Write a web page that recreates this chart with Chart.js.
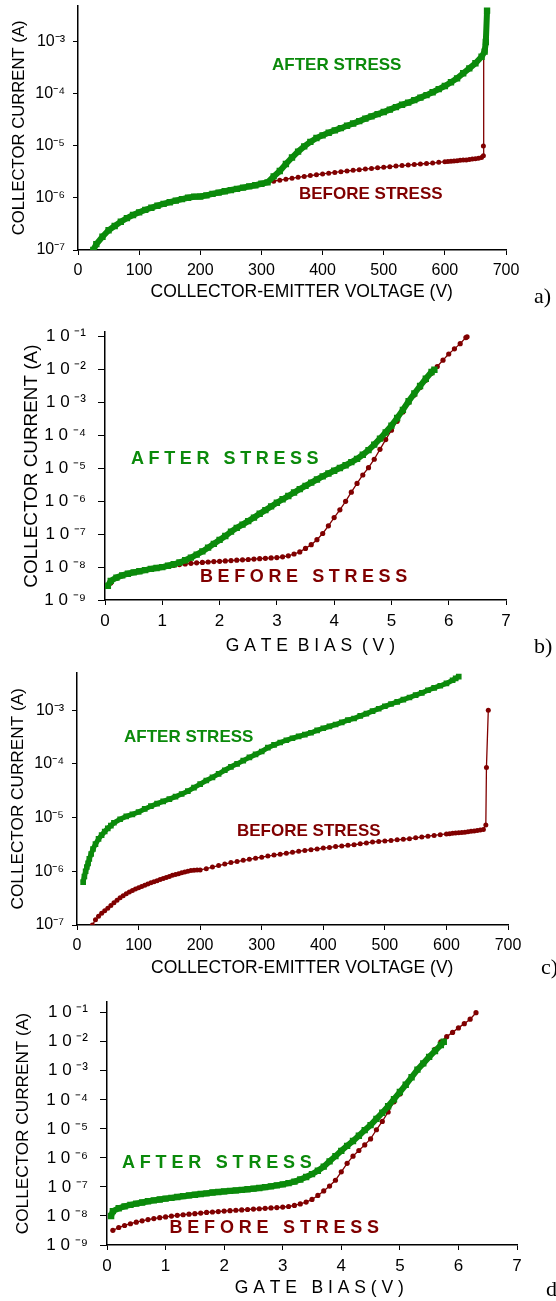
<!DOCTYPE html>
<html>
<head>
<meta charset="utf-8">
<script src="https://cdn.jsdelivr.net/npm/chart.js@4.4.1/dist/chart.umd.min.js"></script>
<style>
  html, body { margin: 0; padding: 0; background: #fff; }
  body { position: relative; width: 556px; height: 1301px; overflow: hidden; }
  canvas { position: absolute; left: 0; }
</style>
</head>
<body>
<canvas id="chartA" width="556" height="330" style="top:-20px"></canvas>
<canvas id="chartB" width="556" height="350" style="top:310px"></canvas>
<canvas id="chartC" width="556" height="330" style="top:655px"></canvas>
<canvas id="chartD" width="556" height="321" style="top:980px"></canvas>
<script>
// ---- panel a : collector current vs collector-emitter voltage ----
const aAfterV = [25, 30, 40, 50, 60, 70, 80, 90, 100, 110, 120, 130, 140, 150, 160, 170, 180, 190, 200, 210, 220, 230, 240, 250, 260, 270, 280, 290, 300, 310,
  320, 330, 340, 350, 360, 370, 380, 390, 400, 410, 420, 430, 440, 450, 460, 470, 480, 490, 500, 510, 520, 530, 540, 550, 560, 570,
  580, 590, 600, 610, 620, 630, 640, 650, 660, 665, 667, 669];
const aAfterI = [1.0e-7, 1.3e-7, 1.8e-7, 2.4e-7, 2.9e-7, 3.5e-7, 4.1e-7, 4.7e-7, 5.3e-7, 5.9e-7, 6.5e-7, 7.1e-7, 7.7e-7, 8.3e-7, 8.9e-7, 9.5e-7, 1.01e-6, 1.06e-6, 1.07e-6, 1.12e-6, 1.2e-6, 1.27e-6, 1.35e-6, 1.42e-6, 1.5e-6, 1.58e-6, 1.67e-6, 1.76e-6, 1.88e-6, 2.0e-6,
  2.6e-6, 3.3e-6, 4.5e-6, 6.0e-6, 7.8e-6, 9.8e-6, 1.2e-5, 1.42e-5, 1.6e-5, 1.8e-5, 2.0e-5, 2.2e-5, 2.45e-5, 2.7e-5, 3.0e-5, 3.35e-5, 3.7e-5, 4.1e-5, 4.5e-5, 5.0e-5, 5.6e-5, 6.2e-5, 6.8e-5, 7.6e-5, 8.5e-5, 9.5e-5,
  1.08e-4, 1.24e-4, 1.42e-4, 1.68e-4, 2.0e-4, 2.5e-4, 3.1e-4, 3.9e-4, 5.2e-4, 6.5e-4, 1.0e-3, 4.0e-3];
const aBeforeV = [25, 30, 40, 50, 60, 70, 80, 90, 100, 110, 120, 130, 140, 150, 160, 170, 180, 190, 200, 210, 220, 230, 240, 250, 260, 270, 280, 290, 300,
  310, 320, 330, 340, 350, 360, 370, 380, 390, 400, 410, 420, 430, 440, 450, 460, 470, 480, 490, 500, 510, 520, 530, 540, 550, 560, 570, 580, 590, 600,
  605, 610, 615, 620, 625, 630, 635, 640, 645, 650, 655, 660, 663, 663, 664];
const aBeforeI = [1.0e-7, 1.3e-7, 1.8e-7, 2.4e-7, 2.9e-7, 3.5e-7, 4.1e-7, 4.7e-7, 5.3e-7, 5.9e-7, 6.5e-7, 7.1e-7, 7.7e-7, 8.3e-7, 8.9e-7, 9.5e-7, 1.01e-6, 1.06e-6, 1.07e-6, 1.12e-6, 1.2e-6, 1.27e-6, 1.35e-6, 1.42e-6, 1.5e-6, 1.58e-6, 1.67e-6, 1.76e-6, 1.88e-6,
  2.0e-6, 2.1e-6, 2.2e-6, 2.3e-6, 2.4e-6, 2.5e-6, 2.6e-6, 2.7e-6, 2.8e-6, 2.9e-6, 3.0e-6, 3.1e-6, 3.2e-6, 3.3e-6, 3.4e-6, 3.5e-6, 3.6e-6, 3.7e-6, 3.8e-6, 3.9e-6, 4.0e-6, 4.1e-6, 4.2e-6, 4.3e-6, 4.4e-6, 4.5e-6, 4.6e-6, 4.7e-6, 4.85e-6, 5.0e-6,
  5.05e-6, 5.1e-6, 5.15e-6, 5.2e-6, 5.3e-6, 5.35e-6, 5.4e-6, 5.5e-6, 5.6e-6, 5.7e-6, 5.8e-6, 6.0e-6, 6.5e-6, 1.0e-5, 6.5e-4];

// ---- panel b : collector current vs gate bias ----
const bAfterV = [0.05, 0.1, 0.2, 0.3, 0.4, 0.5, 0.6, 0.7, 0.8, 0.9, 1.0, 1.1, 1.2, 1.3, 1.4, 1.5, 1.6, 1.7, 1.8, 1.9, 2.0, 2.1, 2.2, 2.3, 2.4, 2.5, 2.6, 2.7, 2.8, 2.9,
  3.0, 3.1, 3.2, 3.3, 3.4, 3.5, 3.6, 3.7, 3.8, 3.9, 4.0, 4.1, 4.2, 4.3, 4.4, 4.5, 4.6, 4.7, 4.8, 4.9, 5.0, 5.1, 5.2, 5.3, 5.4, 5.5, 5.6, 5.7, 5.75];
const bAfterI = [2.7e-9, 3.8e-9, 4.8e-9, 5.6e-9, 6.3e-9, 6.9e-9, 7.5e-9, 8.1e-9, 8.8e-9, 9.4e-9, 1.0e-8, 1.1e-8, 1.22e-8, 1.38e-8, 1.62e-8, 1.95e-8, 2.4e-8, 3.0e-8, 3.9e-8, 5.1e-8, 6.7e-8, 8.8e-8, 1.2e-7, 1.55e-7, 1.95e-7, 2.5e-7, 3.2e-7, 4.2e-7, 5.4e-7, 7.0e-7,
  9.0e-7, 1.15e-6, 1.45e-6, 1.85e-6, 2.35e-6, 2.95e-6, 3.7e-6, 4.6e-6, 5.7e-6, 7.0e-6, 8.5e-6, 1.03e-5, 1.25e-5, 1.55e-5, 1.95e-5, 2.6e-5, 3.6e-5, 5.3e-5, 8.0e-5, 1.25e-4, 2.0e-4, 3.4e-4, 6.0e-4, 1.1e-3, 1.9e-3, 3.2e-3, 5.3e-3, 8.5e-3, 1.0e-2];
const bBeforeV = [0.05, 0.1, 0.2, 0.3, 0.4, 0.5, 0.6, 0.7, 0.8, 0.9, 1.0, 1.1, 1.2, 1.3, 1.4, 1.5, 1.6, 1.7, 1.8, 1.9, 2.0, 2.1, 2.2, 2.3, 2.4, 2.5, 2.6, 2.7, 2.8, 2.9,
  3.0, 3.1, 3.2, 3.3, 3.4, 3.5, 3.6, 3.7, 3.8, 3.9, 4.0, 4.1, 4.2, 4.3, 4.4, 4.5, 4.6, 4.7, 4.8, 4.9, 5.0, 5.1, 5.2, 5.3, 5.4, 5.5, 5.6, 5.7, 5.8, 5.9,
  6.0, 6.1, 6.2, 6.3, 6.32];
const bBeforeI = [2.6e-9, 3.3e-9, 4.6e-9, 5.5e-9, 6.2e-9, 6.9e-9, 7.5e-9, 8.1e-9, 8.7e-9, 9.3e-9, 1.0e-8, 1.06e-8, 1.13e-8, 1.19e-8, 1.25e-8, 1.3e-8, 1.35e-8, 1.39e-8, 1.43e-8, 1.47e-8, 1.5e-8, 1.54e-8, 1.58e-8, 1.62e-8, 1.66e-8, 1.7e-8, 1.75e-8, 1.8e-8, 1.85e-8, 1.9e-8,
  1.95e-8, 2.05e-8, 2.2e-8, 2.5e-8, 2.9e-8, 3.7e-8, 4.8e-8, 6.8e-8, 1.05e-7, 1.8e-7, 3.2e-7, 5.5e-7, 1.0e-6, 1.9e-6, 3.5e-6, 6.3e-6, 1.05e-5, 1.9e-5, 3.8e-5, 7.5e-5, 1.45e-4, 2.7e-4, 5.2e-4, 1.0e-3, 1.7e-3, 2.9e-3, 4.8e-3, 7.8e-3, 1.25e-2, 1.95e-2,
  3.0e-2, 4.3e-2, 6.2e-2, 9.5e-2, 1.0e-1];

// ---- panel c : collector current vs collector-emitter voltage ----
const cAfterV = [10, 12, 14, 16, 18, 20, 23, 26, 30, 35, 40, 45, 50, 55, 60, 70, 80, 90, 100, 110, 120, 130, 140, 150, 160, 170, 180, 190, 200,
  210, 220, 230, 240, 250, 260, 270, 280, 290, 300, 310, 320, 330, 340, 350, 360, 370, 380, 390, 400, 410, 420, 430, 440, 450, 460, 470, 480, 490, 500,
  510, 520, 530, 540, 550, 560, 570, 580, 590, 600, 610, 615, 620];
const cAfterI = [6.3e-7, 8.0e-7, 1.0e-6, 1.2e-6, 1.4e-6, 1.7e-6, 2.1e-6, 2.6e-6, 3.2e-6, 4.0e-6, 4.7e-6, 5.5e-6, 6.3e-6, 7.1e-6, 8.0e-6, 9.3e-6, 1.05e-5, 1.15e-5, 1.27e-5, 1.45e-5, 1.63e-5, 1.82e-5, 2.0e-5, 2.2e-5, 2.45e-5, 2.75e-5, 3.1e-5, 3.6e-5, 4.2e-5,
  4.9e-5, 5.6e-5, 6.5e-5, 7.6e-5, 8.8e-5, 1.0e-4, 1.15e-4, 1.32e-4, 1.5e-4, 1.7e-4, 2.0e-4, 2.25e-4, 2.5e-4, 2.75e-4, 3.0e-4, 3.25e-4, 3.5e-4, 3.8e-4, 4.2e-4, 4.6e-4, 5.0e-4, 5.4e-4, 5.9e-4, 6.5e-4, 7.0e-4, 7.8e-4, 8.6e-4, 9.6e-4, 1.06e-3, 1.18e-3,
  1.3e-3, 1.43e-3, 1.57e-3, 1.72e-3, 1.9e-3, 2.1e-3, 2.35e-3, 2.6e-3, 2.85e-3, 3.15e-3, 3.6e-3, 3.9e-3, 4.2e-3];
const cBeforeV = [25, 30, 35, 40, 45, 50, 55, 60, 65, 70, 75, 80, 85, 90, 95, 100, 105, 110, 115, 120, 125, 130, 135, 140, 145, 150, 155, 160, 165, 170, 175, 180, 185, 190, 195, 200,
  210, 220, 230, 240, 250, 260, 270, 280, 290, 300, 310, 320, 330, 340, 350, 360, 370, 380, 390, 400, 410, 420, 430, 440, 450, 460, 470, 480, 490, 500,
  510, 520, 530, 540, 550, 560, 570, 580, 590, 600, 605, 610, 615, 620, 625, 630, 635, 640, 645, 650, 655, 660, 664, 665, 668];
const cBeforeI = [1.0e-7, 1.25e-7, 1.45e-7, 1.65e-7, 1.85e-7, 2.05e-7, 2.3e-7, 2.6e-7, 2.9e-7, 3.2e-7, 3.5e-7, 3.8e-7, 4.1e-7, 4.4e-7, 4.7e-7, 4.95e-7, 5.2e-7, 5.5e-7, 5.8e-7, 6.1e-7, 6.4e-7, 6.7e-7, 7.0e-7, 7.35e-7, 7.7e-7, 8.0e-7, 8.4e-7, 8.7e-7, 9.0e-7, 9.4e-7, 9.7e-7, 1.0e-6, 1.03e-6, 1.05e-6, 1.06e-6, 1.06e-6,
  1.12e-6, 1.2e-6, 1.28e-6, 1.36e-6, 1.45e-6, 1.52e-6, 1.6e-6, 1.67e-6, 1.75e-6, 1.83e-6, 1.92e-6, 2.0e-6, 2.08e-6, 2.16e-6, 2.25e-6, 2.35e-6, 2.44e-6, 2.52e-6, 2.6e-6, 2.7e-6, 2.78e-6, 2.88e-6, 2.97e-6, 3.05e-6, 3.12e-6, 3.25e-6, 3.38e-6, 3.5e-6, 3.6e-6, 3.68e-6,
  3.76e-6, 3.85e-6, 3.95e-6, 4.05e-6, 4.2e-6, 4.35e-6, 4.5e-6, 4.65e-6, 4.8e-6, 4.95e-6, 5.0e-6, 5.1e-6, 5.15e-6, 5.2e-6, 5.3e-6, 5.35e-6, 5.45e-6, 5.55e-6, 5.65e-6, 5.75e-6, 5.85e-6, 6.0e-6, 7.3e-6, 8.6e-5, 1.0e-3];

// ---- panel d : collector current vs gate bias ----
const dAfterV = [0.07, 0.1, 0.2, 0.3, 0.4, 0.5, 0.6, 0.7, 0.8, 0.9, 1.0, 1.1, 1.2, 1.3, 1.4, 1.5, 1.6, 1.7, 1.8, 1.9, 2.0, 2.1, 2.2, 2.3, 2.4, 2.5, 2.6, 2.7, 2.8, 2.9,
  3.0, 3.1, 3.2, 3.3, 3.4, 3.5, 3.6, 3.7, 3.8, 3.9, 4.0, 4.1, 4.2, 4.3, 4.4, 4.5, 4.6, 4.7, 4.8, 4.9, 5.0, 5.1, 5.2, 5.3, 5.4, 5.5, 5.6, 5.7, 5.75];
const dAfterI = [1.0e-8, 1.46e-8, 1.85e-8, 2.15e-8, 2.4e-8, 2.65e-8, 2.9e-8, 3.2e-8, 3.45e-8, 3.7e-8, 3.95e-8, 4.2e-8, 4.5e-8, 4.8e-8, 5.1e-8, 5.4e-8, 5.7e-8, 6.0e-8, 6.4e-8, 6.7e-8, 7.0e-8, 7.3e-8, 7.6e-8, 7.9e-8, 8.3e-8, 8.7e-8, 9.2e-8, 9.8e-8, 1.05e-7, 1.13e-7,
  1.22e-7, 1.35e-7, 1.52e-7, 1.8e-7, 2.2e-7, 2.75e-7, 3.6e-7, 5.0e-7, 7.6e-7, 1.15e-6, 1.75e-6, 2.6e-6, 3.8e-6, 5.8e-6, 9.0e-6, 1.35e-5, 2.2e-5, 3.6e-5, 6.0e-5, 1.05e-4, 1.85e-4, 3.3e-4, 6.0e-4, 1.1e-3, 1.8e-3, 3.0e-3, 4.8e-3, 7.7e-3, 1.0e-2];
const dBeforeV = [0.1, 0.2, 0.3, 0.4, 0.5, 0.6, 0.7, 0.8, 0.9, 1.0, 1.1, 1.2, 1.3, 1.4, 1.5, 1.6, 1.7, 1.8, 1.9, 2.0, 2.1, 2.2, 2.3, 2.4, 2.5, 2.6, 2.7, 2.8, 2.9,
  3.0, 3.1, 3.2, 3.3, 3.4, 3.5, 3.6, 3.7, 3.8, 3.9, 4.0, 4.1, 4.2, 4.3, 4.4, 4.5, 4.6, 4.7, 4.8, 4.9, 5.0, 5.1, 5.2, 5.3, 5.4, 5.5, 5.6, 5.7, 5.8, 5.9,
  6.0, 6.1, 6.2, 6.3];
const dBeforeI = [3.2e-9, 4.0e-9, 4.7e-9, 5.4e-9, 6.1e-9, 6.8e-9, 7.5e-9, 8.1e-9, 8.7e-9, 9.3e-9, 9.9e-9, 1.05e-8, 1.1e-8, 1.15e-8, 1.2e-8, 1.26e-8, 1.32e-8, 1.37e-8, 1.42e-8, 1.47e-8, 1.52e-8, 1.57e-8, 1.62e-8, 1.67e-8, 1.72e-8, 1.77e-8, 1.83e-8, 1.89e-8, 1.95e-8,
  2.02e-8, 2.12e-8, 2.3e-8, 2.6e-8, 3.0e-8, 3.7e-8, 5.1e-8, 7.3e-8, 1.07e-7, 1.7e-7, 3.3e-7, 6.5e-7, 1.15e-6, 1.8e-6, 2.8e-6, 4.5e-6, 9.3e-6, 1.8e-5, 3.8e-5, 8.5e-5, 1.6e-4, 3.3e-4, 6.0e-4, 1.1e-3, 1.75e-3, 3.0e-3, 5.5e-3, 1.0e-2, 1.5e-2, 2.1e-2,
  3.0e-2, 4.2e-2, 6.0e-2, 1.0e-1];

// tick values
const vceTicksY = [1e-7, 1e-6, 1e-5, 1e-4, 1e-3];
const gateTicksY = [1e-9, 1e-8, 1e-7, 1e-6, 1e-5, 1e-4, 1e-3, 1e-2, 1e-1];

const GREEN = '#0b8a0b';
const RED = '#800000';
const SANS = "'Liberation Sans', Arial, sans-serif";
const SERIF = "'Liberation Serif', 'Times New Roman', serif";

Chart.defaults.font.family = SANS;
Chart.defaults.color = '#000';

const SUP = {'-': '\u207B', '0': '\u2070', '1': '\u00B9', '2': '\u00B2', '3': '\u00B3', '4': '\u2074',
  '5': '\u2075', '6': '\u2076', '7': '\u2077', '8': '\u2078', '9': '\u2079'};

function powLabel(v, spaced) {
    const e = String(Math.round(Math.log10(v))).split('').map(c => SUP[c]).join('');
    return spaced ? '1 0 ' + e : '10' + e;
}

function pts(xs, ys) {
    return xs.map((x, i) => ({x: x, y: ys[i]}));
}

// draws the curve labels and the panel letter
const textPlugin = {
    id: 'panelText',
    afterDraw(chart, args, opts) {
        const ctx = chart.ctx;
        (opts.items || []).forEach(it => {
            ctx.save();
            ctx.font = it.font;
            ctx.fillStyle = it.color || '#000';
            ctx.textAlign = 'left';
            ctx.textBaseline = 'middle';
            ctx.letterSpacing = (it.spacing || 0) + 'px';
            ctx.fillText(it.text, it.x, it.y - opts.top);
            ctx.restore();
        });
    }
};

function makePanel(p) {
    const canvas = document.getElementById(p.id);
    const H = canvas.height;
    return new Chart(canvas, {
        type: 'line',
        data: {
            datasets: [{
                label: 'AFTER STRESS',
                data: pts(p.afterV, p.afterI),
                borderColor: GREEN,
                backgroundColor: GREEN,
                borderWidth: p.greenLine,
                pointStyle: 'rect',
                pointRadius: p.greenRadius,
                pointBorderWidth: 0,
                pointBackgroundColor: GREEN,
                tension: 0
            }, {
                label: 'BEFORE STRESS',
                data: pts(p.beforeV, p.beforeI),
                borderColor: RED,
                backgroundColor: RED,
                borderWidth: 1.3,
                pointStyle: 'circle',
                pointRadius: p.redRadius,
                pointBorderWidth: 0,
                pointBackgroundColor: RED,
                tension: 0
            }]
        },
        options: {
            responsive: false,
            devicePixelRatio: 1,
            animation: false,
            layout: {
                padding: {top: p.area.top - p.canvasTop, right: 556 - p.area.right, bottom: 0, left: 0}
            },
            plugins: {
                legend: {display: false},
                tooltip: {enabled: false},
                panelText: {top: p.canvasTop, items: p.texts}
            },
            scales: {
                x: {
                    type: 'linear',
                    min: 0,
                    max: p.xMax,
                    ticks: {stepSize: p.xStep, font: {size: p.tickSize}, color: '#000', padding: p.xTickPad},
                    grid: {display: true, drawOnChartArea: false, drawTicks: true, tickLength: 5, color: '#000', lineWidth: 1},
                    border: {display: true, color: '#000', width: 1.5},
                    title: {display: true, text: p.xTitle, font: {size: p.titleSize, lineHeight: 1.2}, color: '#000',
                        padding: {top: 0, bottom: p.xTitlePad}},
                    afterFit(s) { s.height = H - (p.area.bottom - p.canvasTop); }
                },
                y: {
                    type: 'logarithmic',
                    min: p.yMin,
                    max: p.yMax,
                    afterBuildTicks(s) { s.ticks = p.yTicks.map(v => ({value: v, major: true})); },
                    ticks: {callback: v => powLabel(v, p.spaced), font: {size: p.tickSize}, color: '#000', padding: p.yTickPad, autoSkip: false},
                    grid: {display: true, drawOnChartArea: false, drawTicks: true, tickLength: p.yTickLen, color: '#000', lineWidth: 1},
                    border: {display: true, color: '#000', width: 1.5},
                    title: {display: true, text: 'COLLECTOR CURRENT (A)', font: {size: p.yTitleSize, lineHeight: 1.2}, color: '#000',
                        padding: {top: p.yTitlePad, bottom: 0}},
                    afterFit(s) { s.width = p.area.left; }
                }
            }
        },
        plugins: [textPlugin]
    });
}

const boldLabel = size => 'bold ' + size + 'px ' + SANS;
const letterFont = '22px ' + SERIF;

// leading spaces nudge the centred axis titles to the right, as in the source figure
makePanel({
    id: 'chartA', canvasTop: -20,
    area: {left: 78, right: 506, top: 5.6, bottom: 250},
    afterV: aAfterV, afterI: aAfterI, beforeV: aBeforeV, beforeI: aBeforeI,
    greenLine: 6, greenRadius: 4.5, redRadius: 2.5,
    xMax: 700, xStep: 100, yMin: 1e-7, yMax: 5e-3, yTicks: vceTicksY, spaced: false,
    tickSize: 16, xTickPad: 6, yTickPad: 8, yTickLen: 5,
    xTitle: '    COLLECTOR-EMITTER VOLTAGE (V)', titleSize: 17.5, xTitlePad: 7,
    yTitleSize: 16.7, yTitlePad: 9,
    texts: [
        {text: 'AFTER STRESS', x: 272, y: 65, color: GREEN, font: boldLabel(17)},
        {text: 'BEFORE STRESS', x: 299, y: 194, color: RED, font: boldLabel(17)},
        {text: 'a)', x: 534, y: 297, font: letterFont}
    ]
});

makePanel({
    id: 'chartB', canvasTop: 310,
    area: {left: 105, right: 506, top: 328, bottom: 600},
    afterV: bAfterV, afterI: bAfterI, beforeV: bBeforeV, beforeI: bBeforeI,
    greenLine: 6, greenRadius: 4.5, redRadius: 2.6,
    xMax: 7, xStep: 1, yMin: 1e-9, yMax: 0.138, yTicks: gateTicksY, spaced: true,
    tickSize: 17, xTickPad: 6, yTickPad: 12, yTickLen: 7,
    xTitle: '  G A T E  B I A S  ( V )', titleSize: 17.5, xTitlePad: 3.5,
    yTitleSize: 18.9, yTitlePad: 20.5,
    texts: [
        {text: 'AFTER STRESS', x: 131, y: 459, color: GREEN, font: boldLabel(18), spacing: 4.6},
        {text: 'BEFORE STRESS', x: 200, y: 577, color: RED, font: boldLabel(18), spacing: 4.6},
        {text: 'b)', x: 534, y: 647, font: letterFont}
    ]
});

makePanel({
    id: 'chartC', canvasTop: 655,
    area: {left: 77, right: 508, top: 671, bottom: 925},
    afterV: cAfterV, afterI: cAfterI, beforeV: cBeforeV, beforeI: cBeforeI,
    greenLine: 5, greenRadius: 4, redRadius: 2.5,
    xMax: 700, xStep: 100, yMin: 1e-7, yMax: 5e-3, yTicks: vceTicksY, spaced: false,
    tickSize: 16, xTickPad: 6, yTickPad: 8, yTickLen: 5,
    xTitle: '    COLLECTOR-EMITTER VOLTAGE (V)', titleSize: 17.5, xTitlePad: 6.5,
    yTitleSize: 17.2, yTitlePad: 7.5,
    texts: [
        {text: 'AFTER STRESS', x: 124, y: 737, color: GREEN, font: boldLabel(17)},
        {text: 'BEFORE STRESS', x: 237, y: 831, color: RED, font: boldLabel(17)},
        {text: 'c)', x: 541, y: 968, font: letterFont}
    ]
});

makePanel({
    id: 'chartD', canvasTop: 980,
    area: {left: 107, right: 517, top: 993, bottom: 1245},
    afterV: dAfterV, afterI: dAfterI, beforeV: dBeforeV, beforeI: dBeforeI,
    greenLine: 6, greenRadius: 4.5, redRadius: 2.6,
    xMax: 7, xStep: 1, yMin: 1e-9, yMax: 0.23, yTicks: gateTicksY, spaced: true,
    tickSize: 17, xTickPad: 6, yTickPad: 12, yTickLen: 7,
    xTitle: '   G A T E   B I A S ( V )', titleSize: 17.5, xTitlePad: 2,
    yTitleSize: 17.2, yTitlePad: 12.8,
    texts: [
        {text: 'AFTER STRESS', x: 122, y: 1163, color: GREEN, font: boldLabel(18), spacing: 4.8},
        {text: 'BEFORE STRESS', x: 169.5, y: 1228, color: RED, font: boldLabel(18), spacing: 4.8},
        {text: 'd)', x: 546, y: 1290, font: letterFont}
    ]
});
</script>
</body>
</html>
